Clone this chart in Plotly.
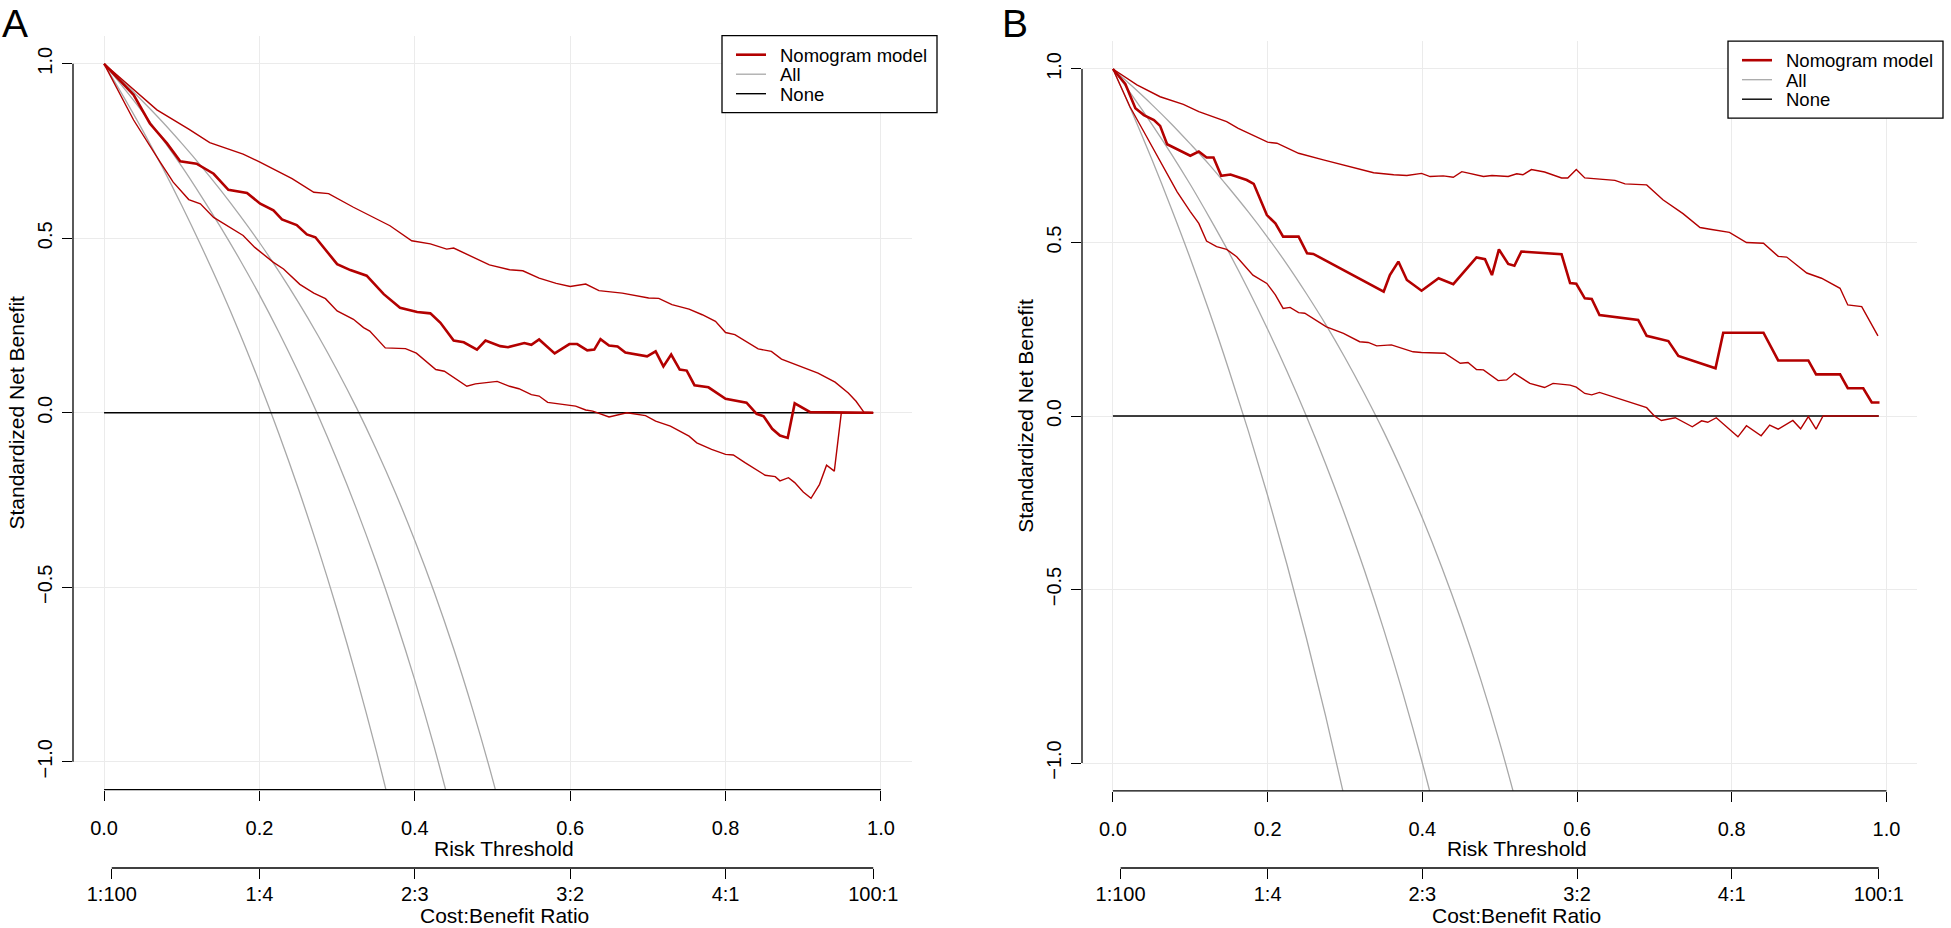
import plotly.graph_objects as go

# ---------------- data ----------------
thresholds_all = [0.0, 0.025, 0.05, 0.075, 0.1, 0.125, 0.15, 0.175, 0.2, 0.225, 0.25,
                  0.275, 0.3, 0.325, 0.35, 0.375, 0.4, 0.425, 0.45, 0.475, 0.5, 0.525]

# Panel A : "All" curves (estimate + CI)
a_all_1 = [1, 0.906, 0.808, 0.704, 0.594, 0.478, 0.356, 0.226, 0.087, -0.060, -0.217,
           -0.385, -0.565, -0.758, -0.966, -1.191]
a_all_2 = [1, 0.932, 0.861, 0.785, 0.706, 0.621, 0.532, 0.438, 0.338, 0.231, 0.117,
           -0.005, -0.136, -0.276, -0.427, -0.590, -0.766, -0.958, -1.168]
a_all_3 = [1, 0.947, 0.892, 0.834, 0.772, 0.707, 0.638, 0.565, 0.488, 0.405, 0.317,
           0.223, 0.122, 0.014, -0.103, -0.229, -0.366, -0.514, -0.676, -0.854, -1.049, -1.264]

# Panel A : nomogram model
a_upper_x = [0, 0.068, 0.109, 0.136, 0.179, 0.2, 0.242, 0.270, 0.289, 0.321, 0.368, 0.396, 0.420,
             0.441, 0.450, 0.476, 0.496, 0.522, 0.539, 0.560, 0.582, 0.6, 0.620, 0.637, 0.667,
             0.701, 0.714, 0.731, 0.753, 0.770, 0.787, 0.800, 0.812, 0.842, 0.859, 0.872, 0.902,
             0.919, 0.941, 0.958, 0.968, 0.978, 0.99]
a_upper_y = [1, 0.868, 0.813, 0.774, 0.741, 0.719, 0.671, 0.632, 0.628, 0.589, 0.536, 0.493, 0.484,
             0.469, 0.472, 0.445, 0.424, 0.410, 0.407, 0.386, 0.371, 0.362, 0.369, 0.350, 0.343,
             0.329, 0.328, 0.310, 0.297, 0.281, 0.262, 0.230, 0.224, 0.183, 0.176, 0.154, 0.129,
             0.114, 0.088, 0.057, 0.033, 0.002, 0.0]
a_mid_x = [0, 0.038, 0.059, 0.081, 0.098, 0.119, 0.141, 0.160, 0.184, 0.201, 0.218, 0.229, 0.248,
           0.261, 0.272, 0.300, 0.317, 0.338, 0.360, 0.381, 0.403, 0.420, 0.433, 0.450, 0.463,
           0.480, 0.491, 0.510, 0.520, 0.541, 0.550, 0.560, 0.580, 0.599, 0.609, 0.622, 0.631,
           0.639, 0.650, 0.661, 0.671, 0.699, 0.710, 0.720, 0.730, 0.741, 0.750, 0.760, 0.778,
           0.800, 0.827, 0.840, 0.849, 0.860, 0.870, 0.880, 0.889, 0.909, 0.99]
a_mid_y = [1, 0.911, 0.829, 0.772, 0.721, 0.714, 0.685, 0.639, 0.630, 0.599, 0.580, 0.554, 0.538,
           0.511, 0.503, 0.426, 0.409, 0.393, 0.340, 0.301, 0.289, 0.285, 0.258, 0.207, 0.202,
           0.181, 0.207, 0.191, 0.188, 0.200, 0.195, 0.210, 0.170, 0.197, 0.197, 0.179, 0.181,
           0.211, 0.193, 0.190, 0.173, 0.162, 0.176, 0.133, 0.167, 0.124, 0.121, 0.079, 0.073,
           0.040, 0.029, -0.003, -0.010, -0.046, -0.065, -0.072, 0.027, 0.002, 0.0]
a_lower_x = [0, 0.038, 0.072, 0.089, 0.109, 0.124, 0.141, 0.158, 0.179, 0.194, 0.218, 0.231, 0.252,
             0.270, 0.285, 0.300, 0.321, 0.334, 0.342, 0.362, 0.388, 0.402, 0.427, 0.438, 0.467,
             0.478, 0.488, 0.506, 0.522, 0.534, 0.550, 0.560, 0.571, 0.582, 0.607, 0.620, 0.629,
             0.650, 0.673, 0.697, 0.710, 0.729, 0.753, 0.763, 0.782, 0.800, 0.810, 0.825, 0.851,
             0.864, 0.870, 0.881, 0.889, 0.900, 0.910, 0.921, 0.930, 0.940, 0.949, 0.99]
a_lower_y = [1, 0.839, 0.719, 0.661, 0.611, 0.599, 0.560, 0.536, 0.508, 0.474, 0.431, 0.412, 0.368,
             0.343, 0.327, 0.292, 0.268, 0.244, 0.234, 0.186, 0.184, 0.171, 0.124, 0.119, 0.076,
             0.083, 0.086, 0.090, 0.076, 0.069, 0.052, 0.048, 0.030, 0.026, 0.019, 0.008, 0.005,
             -0.012, 0.0, -0.008, -0.024, -0.038, -0.067, -0.086, -0.105, -0.119, -0.121, -0.143,
             -0.179, -0.183, -0.195, -0.186, -0.200, -0.227, -0.245, -0.205, -0.150, -0.167, 0.0, 0.0]

# Panel B : "All" curves (estimate + CI)
b_all_1 = [1, 0.874, 0.741, 0.601, 0.454, 0.298, 0.132, -0.043, -0.229, -0.428, -0.639,
           -0.865, -1.107, -1.367]
b_all_2 = [1, 0.923, 0.842, 0.757, 0.667, 0.571, 0.471, 0.364, 0.25, 0.129, 0.0,
           -0.138, -0.286, -0.444, -0.615, -0.8, -1.0, -1.217]
b_all_3 = [1, 0.950, 0.898, 0.843, 0.784, 0.723, 0.657, 0.588, 0.515, 0.437, 0.353,
           0.264, 0.168, 0.065, -0.045, -0.165, -0.294, -0.435, -0.588, -0.756, -0.941, -1.145]

# Panel B : nomogram model
b_upper_x = [0, 0.031, 0.061, 0.091, 0.111, 0.147, 0.162, 0.186, 0.2, 0.212, 0.240, 0.272, 0.307,
             0.337, 0.363, 0.380, 0.399, 0.410, 0.427, 0.440, 0.451, 0.479, 0.490, 0.511, 0.522,
             0.530, 0.541, 0.558, 0.580, 0.588, 0.599, 0.610, 0.649, 0.662, 0.690, 0.711, 0.737,
             0.759, 0.772, 0.797, 0.819, 0.841, 0.860, 0.871, 0.897, 0.916, 0.940, 0.950, 0.968, 0.989]
b_upper_y = [1, 0.954, 0.920, 0.898, 0.877, 0.848, 0.829, 0.805, 0.789, 0.786, 0.757, 0.738, 0.719,
             0.701, 0.695, 0.693, 0.699, 0.690, 0.692, 0.688, 0.704, 0.690, 0.693, 0.690, 0.698,
             0.695, 0.710, 0.703, 0.686, 0.686, 0.710, 0.686, 0.679, 0.669, 0.666, 0.623, 0.583,
             0.543, 0.538, 0.529, 0.5, 0.498, 0.460, 0.458, 0.412, 0.397, 0.368, 0.320, 0.315, 0.231]
b_mid_x = [0, 0.016, 0.029, 0.040, 0.053, 0.061, 0.070, 0.100, 0.111, 0.121, 0.130, 0.140, 0.152,
           0.173, 0.182, 0.199, 0.210, 0.220, 0.240, 0.251, 0.259, 0.350, 0.358, 0.369, 0.380,
           0.399, 0.421, 0.440, 0.470, 0.481, 0.490, 0.499, 0.511, 0.519, 0.528, 0.580, 0.591,
           0.599, 0.610, 0.619, 0.629, 0.679, 0.690, 0.718, 0.731, 0.779, 0.789, 0.841, 0.860,
           0.899, 0.909, 0.940, 0.950, 0.970, 0.981, 0.991]
b_mid_y = [1, 0.957, 0.887, 0.867, 0.853, 0.836, 0.783, 0.750, 0.762, 0.745, 0.745, 0.692, 0.696,
           0.680, 0.669, 0.579, 0.555, 0.517, 0.517, 0.469, 0.467, 0.358, 0.406, 0.445, 0.392,
           0.361, 0.397, 0.380, 0.457, 0.452, 0.406, 0.480, 0.438, 0.433, 0.474, 0.466, 0.383,
           0.381, 0.339, 0.337, 0.291, 0.277, 0.231, 0.216, 0.173, 0.1375, 0.240, 0.240, 0.160,
           0.160, 0.120, 0.120, 0.080, 0.080, 0.039, 0.039]
b_lower_x = [0, 0.022, 0.040, 0.061, 0.083, 0.100, 0.111, 0.121, 0.134, 0.147, 0.160, 0.181, 0.199,
             0.210, 0.220, 0.229, 0.240, 0.248, 0.276, 0.298, 0.319, 0.330, 0.341, 0.360, 0.388,
             0.399, 0.429, 0.449, 0.459, 0.470, 0.479, 0.498, 0.509, 0.519, 0.539, 0.558, 0.569,
             0.591, 0.599, 0.610, 0.619, 0.629, 0.672, 0.690, 0.700, 0.709, 0.727, 0.749, 0.761,
             0.769, 0.780, 0.797, 0.808, 0.819, 0.838, 0.849, 0.860, 0.879, 0.889, 0.899, 0.909,
             0.918, 0.99]
b_lower_y = [1, 0.891, 0.819, 0.733, 0.646, 0.589, 0.555, 0.504, 0.488, 0.480, 0.459, 0.406, 0.382,
             0.349, 0.310, 0.313, 0.298, 0.296, 0.257, 0.238, 0.214, 0.212, 0.202, 0.205, 0.185,
             0.183, 0.181, 0.152, 0.154, 0.134, 0.133, 0.102, 0.104, 0.123, 0.094, 0.082, 0.094,
             0.089, 0.083, 0.065, 0.061, 0.068, 0.038, 0.024, 0.0, -0.013, -0.005, -0.031, -0.014,
             -0.018, -0.005, -0.040, -0.060, -0.028, -0.057, -0.026, -0.038, -0.013, -0.037,
             -0.002, -0.038, 0.0, 0.0]

none_x = [0.0, 0.99]
none_y = [0.0, 0.0]

risk_ticks = [0.0, 0.2, 0.4, 0.6, 0.8, 1.0]
risk_labels = ["0.0", "0.2", "0.4", "0.6", "0.8", "1.0"]
nb_ticks = [-1.0, -0.5, 0.0, 0.5, 1.0]
nb_labels = ["\u22121.0", "\u22120.5", "0.0", "0.5", "1.0"]
cb_ticks = [0.0099, 0.2, 0.4, 0.6, 0.8, 0.9901]
cb_labels = ["1:100", "1:4", "2:3", "3:2", "4:1", "100:1"]

legend_names = ["Nomogram model", "All", "None"]

# ---------------- style ----------------
FONT = "Liberation Sans, Arial, Helvetica, sans-serif"
RED = "#B30000"
GREY = "#A8A8A8"
GRID = "#EBEBEB"
W, H = 1951, 928
legend_colors = [RED, GREY, "black"]
legend_widths = [2.6, 1.3, 1.4]

fig = go.Figure()


def add_panel(xa, ya, all_curves, upper, mid, lower):
    for yv in all_curves:
        fig.add_trace(go.Scatter(x=thresholds_all[:len(yv)], y=yv, mode="lines",
                                 line=dict(color=GREY, width=1.3, shape="spline"),
                                 name=legend_names[1], showlegend=False,
                                 xaxis=xa, yaxis=ya, hoverinfo="skip"))
    fig.add_trace(go.Scatter(x=none_x, y=none_y, mode="lines", line=dict(color="black", width=1.4),
                             name=legend_names[2], showlegend=False, xaxis=xa, yaxis=ya,
                             hoverinfo="skip"))
    for (xv, yv) in (upper, lower):
        fig.add_trace(go.Scatter(x=xv, y=yv, mode="lines", line=dict(color=RED, width=1.4),
                                 name=legend_names[0], showlegend=False, xaxis=xa, yaxis=ya,
                                 hoverinfo="skip"))
    fig.add_trace(go.Scatter(x=mid[0], y=mid[1], mode="lines", line=dict(color=RED, width=2.6),
                             name=legend_names[0], showlegend=False,
                             xaxis=xa, yaxis=ya, hoverinfo="skip"))


add_panel("x", "y", [a_all_1, a_all_2, a_all_3],
          (a_upper_x, a_upper_y), (a_mid_x, a_mid_y), (a_lower_x, a_lower_y))
add_panel("x2", "y2", [b_all_1, b_all_2, b_all_3],
          (b_upper_x, b_upper_y), (b_mid_x, b_mid_y), (b_lower_x, b_lower_y))

# anchor traces for the Cost:Benefit axes
fig.add_trace(go.Scatter(x=[None], y=[None], xaxis="x3", yaxis="y", showlegend=False,
                         hoverinfo="skip"))
fig.add_trace(go.Scatter(x=[None], y=[None], xaxis="x4", yaxis="y2", showlegend=False,
                         hoverinfo="skip"))

tickfont = dict(family=FONT, size=20, color="black")
titlefont = dict(family=FONT, size=21, color="black")

risk_axis = dict(range=[-0.04, 1.04], tickvals=risk_ticks, ticktext=risk_labels,
                 ticks="outside", ticklen=10, tickwidth=1.2, tickcolor="black",
                 showgrid=True, gridcolor=GRID, gridwidth=1.2, zeroline=False, showline=False,
                 tickfont=tickfont, ticklabelstandoff=10)
nb_axis = dict(range=[-1.08, 1.08], tickvals=nb_ticks, ticktext=nb_labels, tickangle=-90,
               ticks="outside", ticklen=10, tickwidth=1.2, tickcolor="black",
               showgrid=True, gridcolor=GRID, gridwidth=1.2, zeroline=False, showline=False,
               tickfont=tickfont, ticklabelstandoff=2,
               title=dict(text="Standardized Net Benefit", font=titlefont, standoff=3))
cb_axis = dict(range=[-0.04, 1.04], tickvals=cb_ticks, ticktext=cb_labels, type="linear",
               ticks="outside", ticklen=10, tickwidth=1.2, tickcolor="black",
               showgrid=False, zeroline=False, showline=False, anchor="free",
               position=1 - 868 / H, side="bottom",
               tickfont=tickfont, ticklabelstandoff=-2)

dom_xa = [73 / W, 912 / W]
dom_ya = [1 - 789.7 / H, 1 - 35.9 / H]
dom_xb = [1082 / W, 1917.4 / W]
dom_yb = [1 - 790.8 / H, 1 - 41.2 / H]

fig.update_layout(
    width=W, height=H, margin=dict(l=0, r=0, t=0, b=0),
    paper_bgcolor="white", plot_bgcolor="white",
    font=dict(family=FONT, color="black"),
    xaxis=dict(risk_axis, domain=dom_xa, anchor="y"),
    yaxis=dict(nb_axis, domain=dom_ya, anchor="x"),
    xaxis2=dict(risk_axis, domain=dom_xb, anchor="y2"),
    yaxis2=dict(nb_axis, domain=dom_yb, anchor="x2"),
    xaxis3=dict(cb_axis, overlaying="x"),
    xaxis4=dict(cb_axis, overlaying="x2"),
    showlegend=False,
)

# R-style axis lines spanning first to last tick
line = dict(color="black", width=1.3)
shapes = []
for xa, ya in (("x", "y"), ("x2", "y2")):
    shapes.append(dict(type="line", xref=xa + " domain", yref=ya, x0=0, x1=0,
                       y0=nb_ticks[0], y1=nb_ticks[-1], line=line))
    shapes.append(dict(type="line", xref=xa, yref=ya + " domain", x0=risk_ticks[0],
                       x1=risk_ticks[-1], y0=0, y1=0, line=line))
    shapes.append(dict(type="line", xref=xa, yref="paper", x0=cb_ticks[0], x1=cb_ticks[-1],
                       y0=1 - 868 / H, y1=1 - 868 / H, line=line))

annotations = []
# x-axis titles (R mtext style)
for xa, xc in (("x", 0.515), ("x2", 0.522)):
    annotations.append(dict(text="Risk Threshold", xref=xa, x=xc, yref="paper", y=1 - 848 / H,
                            showarrow=False, xanchor="center", yanchor="middle",
                            font=titlefont))
    annotations.append(dict(text="Cost:Benefit Ratio", xref=xa, x=xc, yref="paper", y=0,
                            showarrow=False, xanchor="center", yanchor="bottom",
                            font=titlefont, borderpad=0))

# legend boxes (R-style compact legend), positions in pixels
legend_boxes = [(722, 35.7), (1728, 41.2)]
for (bx, by) in legend_boxes:
    shapes.append(dict(type="rect", xref="paper", yref="paper",
                       x0=bx / W, x1=(bx + 215) / W, y0=1 - by / H, y1=1 - (by + 77) / H,
                       line=dict(color="black", width=1.3), fillcolor="white", layer="above"))
    for i, name in enumerate(legend_names):
        ry = by + 19 + 19.5 * i
        shapes.append(dict(type="line", xref="paper", yref="paper",
                           x0=(bx + 14) / W, x1=(bx + 44) / W, y0=1 - ry / H, y1=1 - ry / H,
                           line=dict(color=legend_colors[i], width=legend_widths[i]),
                           layer="above"))
        annotations.append(dict(text=name, x=(bx + 57) / W, y=1 - (ry + 0.5) / H,
                                xref="paper", yref="paper", showarrow=False,
                                xanchor="left", yanchor="middle", borderpad=0,
                                font=dict(family=FONT, size=18.5, color="black")))

annotations.append(dict(text="A", x=15 / W, y=1 - 24 / H, xref="paper", yref="paper",
                        showarrow=False, font=dict(family=FONT, size=39, color="black"),
                        xanchor="center", yanchor="middle"))
annotations.append(dict(text="B", x=1015 / W, y=1 - 24 / H, xref="paper", yref="paper",
                        showarrow=False, font=dict(family=FONT, size=39, color="black"),
                        xanchor="center", yanchor="middle"))
fig.update_layout(shapes=shapes, annotations=annotations)

# remove the browser's default 8px page margin so the figure sits at the window origin
fig.write_html("out.html",
               config={"displayModeBar": False},
               post_script="document.body.style.margin='0px';"
                           "document.documentElement.style.overflow='hidden';")
